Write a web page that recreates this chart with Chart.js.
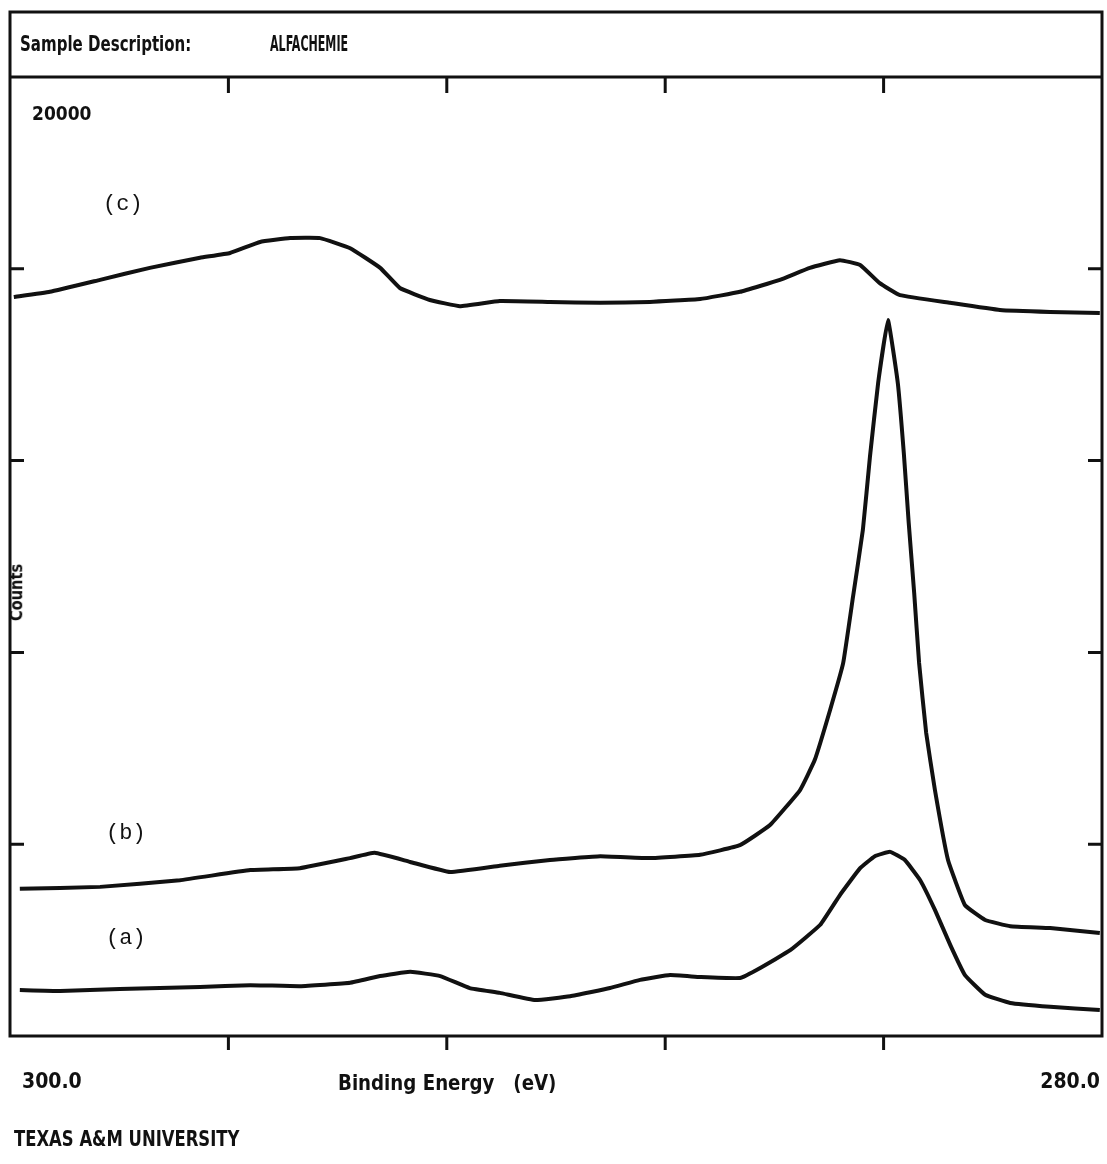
<!DOCTYPE html>
<html>
<head>
<meta charset="utf-8">
<title>Binding Energy</title>
<script src="https://cdn.jsdelivr.net/npm/chart.js@4.4.1/dist/chart.umd.min.js"></script>
<style>
  body { margin: 0; background: #fff; }
  #wrap { position: relative; width: 1107px; height: 1164px; }
  canvas { position: absolute; left: 0; top: 0; }
  .txt { position: absolute; color: #111; font-family: "DejaVu Sans Condensed", "Liberation Sans Narrow", sans-serif; font-weight: bold; white-space: nowrap; transform-origin: left center; }
  .lbl { position: absolute; color: #111; font-family: "Liberation Mono", "DejaVu Sans Mono", monospace; font-size: 22px; }
</style>
</head>
<body>
<div id="wrap">
  <canvas id="myChart" width="1107" height="1164"></canvas>
  <div class="txt" style="left:20px; top:31px; font-size:22px; transform: scaleX(0.76);">Sample Description:</div>
  <div class="txt" style="left:270px; top:31px; font-size:22px; transform: scaleX(0.56);">ALFACHEMIE</div>
  <div class="lbl" style="left:103px; top:192px;">(c)</div>
  <div class="lbl" style="left:106px; top:821px;">(b)</div>
  <div class="lbl" style="left:106px; top:926px;">(a)</div>
  <div class="txt" style="left:338px; top:1070px; font-size:22px; transform: scaleX(0.92);">Binding Energy&nbsp;&nbsp;&nbsp;(eV)</div>
  <div class="txt" style="left:-16px; top:582px; font-size:18px; transform-origin: center center; transform: rotate(-90deg) scaleX(0.9);">Counts</div>
  <div class="txt" style="left:14px; top:1127px; font-size:21px; transform: scaleX(0.87);">TEXAS A&amp;M UNIVERSITY</div>
</div>
<script>
// tick values
const xTickValues = [296, 292, 288, 284];
const yTickValues = [4000, 8000, 12000, 16000];

// (c)
const energyC = [299.93, 299.27, 298.35, 297.44, 296.52, 295.97, 295.42, 294.87, 294.32, 293.77, 293.22, 292.86, 292.31, 291.76, 291.03, 290.11, 289.19, 288.28, 287.36, 286.63, 285.90, 285.35, 284.80, 284.43, 284.07, 283.70, 282.78, 281.87, 280.95, 280.04];
const countsC = [15410, 15520, 15770, 16020, 16230, 16330, 16560, 16640, 16640, 16430, 16020, 15600, 15350, 15220, 15330, 15310, 15290, 15310, 15370, 15520, 15770, 16020, 16180, 16080, 15700, 15450, 15290, 15140, 15100, 15080];

// (b)
const energyB = [299.82, 298.35, 296.89, 295.60, 294.69, 293.77, 293.32, 292.67, 291.94, 291.03, 290.11, 289.19, 288.28, 287.36, 286.63, 286.08, 285.53, 285.26, 284.98, 284.74, 284.56, 284.38, 284.25, 284.10, 283.92, 283.74, 283.63, 283.54, 283.44, 283.35, 283.22, 283.06, 282.82, 282.51, 282.14, 281.68, 280.95, 280.04];
const countsB = [3070, 3110, 3250, 3460, 3500, 3710, 3820, 3630, 3420, 3550, 3670, 3750, 3710, 3780, 3980, 4400, 5130, 5760, 6800, 7780, 9160, 10550, 12080, 13620, 14930, 13620, 12160, 10700, 9240, 7780, 6320, 5130, 3670, 2730, 2420, 2290, 2250, 2150];

// (a)
const energyA = [299.82, 299.08, 297.99, 296.52, 295.60, 294.69, 293.77, 293.22, 292.67, 292.12, 291.58, 291.03, 290.38, 289.74, 289.01, 288.46, 287.91, 287.36, 286.63, 286.26, 285.71, 285.16, 284.80, 284.43, 284.16, 283.88, 283.61, 283.33, 283.06, 282.78, 282.51, 282.14, 281.68, 280.95, 280.04];
const countsA = [960, 940, 980, 1020, 1060, 1040, 1110, 1250, 1340, 1250, 1000, 900, 750, 830, 1000, 1170, 1270, 1230, 1210, 1420, 1790, 2320, 2940, 3500, 3750, 3840, 3670, 3250, 2630, 1900, 1270, 860, 690, 610, 540];

function toPoints(xs, ys) {
  return xs.map(function(x, i) { return { x: x, y: ys[i] }; });
}

const framePlugin = {
  id: 'frame',
  afterDraw: function(chart) {
    const c = chart.ctx;
    const a = chart.chartArea;
    const xs = chart.scales.x;
    const ys = chart.scales.y;
    c.save();
    c.strokeStyle = '#111';
    c.lineWidth = 3;
    // outer box and header line
    c.strokeRect(a.left, 12, a.right - a.left, a.bottom - 12);
    c.beginPath();
    c.moveTo(a.left, a.top);
    c.lineTo(a.right, a.top);
    c.stroke();
    // x ticks: inward at top, outward at bottom
    xTickValues.forEach(function(v) {
      const px = xs.getPixelForValue(v);
      c.beginPath();
      c.moveTo(px, a.top);
      c.lineTo(px, a.top + 16);
      c.moveTo(px, a.bottom);
      c.lineTo(px, a.bottom + 14);
      c.stroke();
    });
    // y ticks: inward on both sides
    yTickValues.forEach(function(v) {
      const py = ys.getPixelForValue(v);
      c.beginPath();
      c.moveTo(a.left, py);
      c.lineTo(a.left + 14, py);
      c.moveTo(a.right - 14, py);
      c.lineTo(a.right, py);
      c.stroke();
    });
    // tick labels
    c.fillStyle = '#111';
    c.font = 'bold 21px "DejaVu Sans Condensed", sans-serif';
    c.textBaseline = 'middle';
    c.textAlign = 'left';
    c.fillText(xs.max.toFixed(1), a.left + 12, 1083);
    c.textAlign = 'right';
    c.fillText(xs.min.toFixed(1), a.right - 2, 1083);
    c.textAlign = 'left';
    c.font = 'bold 19px "DejaVu Sans Condensed", sans-serif';
    c.fillText(String(ys.max), a.left + 22, 115);
    c.restore();
  }
};

function lineSet(label, pts) {
  return {
    label: label,
    data: pts,
    borderColor: '#111',
    borderWidth: 4,
    pointRadius: 0,
    tension: 0.1,
    fill: false
  };
}

const ctx = document.getElementById('myChart');
const myChart = new Chart(ctx, {
  type: 'line',
  data: {
    datasets: [
      lineSet('(a)', toPoints(energyA, countsA)),
      lineSet('(b)', toPoints(energyB, countsB)),
      lineSet('(c)', toPoints(energyC, countsC))
    ]
  },
  options: {
    responsive: false,
    animation: false,
    layout: { padding: { left: 10, top: 77, right: 5, bottom: 128 } },
    plugins: { legend: { display: false }, tooltip: { enabled: false } },
    scales: {
      x: { type: 'linear', min: 280, max: 300, reverse: true, display: false },
      y: { min: 0, max: 20000, display: false }
    }
  },
  plugins: [framePlugin]
});
</script>
</body>
</html>
